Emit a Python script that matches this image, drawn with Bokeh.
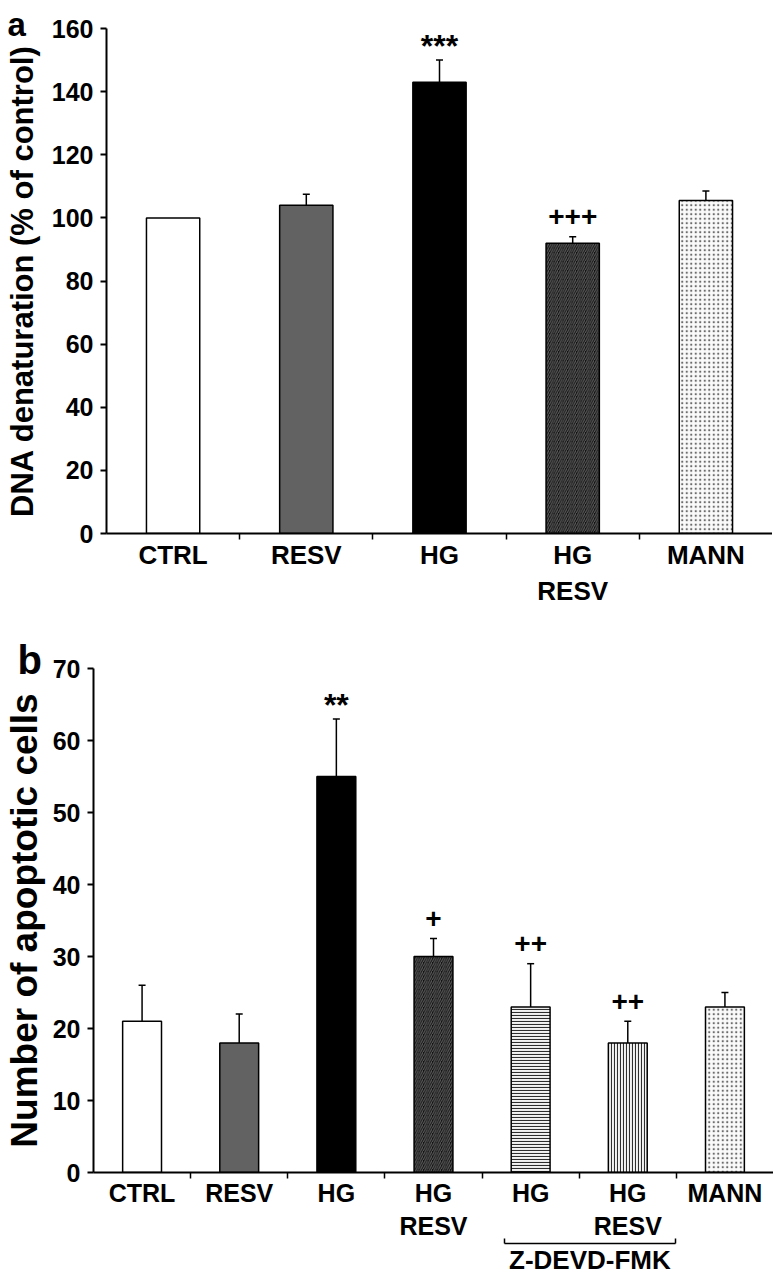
from bokeh.plotting import figure
from bokeh.models import (ColumnDataSource, Range1d, FixedTicker, Whisker, TeeHead, Label,
                          LinearAxis)
from bokeh.embed import file_html
from bokeh.resources import INLINE

# ---------------- data: panel a ----------------
cats_a = ["CTRL", "RESV", "HG", "HG\nRESV", "MANN"]
dna_mean = [100, 104, 143, 92, 105.5]
dna_err = [0, 3.5, 7, 2, 3]
dna_marks = ["", "", "***", "+++", ""]
yticks_a = [0, 20, 40, 60, 80, 100, 120, 140, 160]
ylabel_a = "DNA denaturation (% of control)"

# ---------------- data: panel b ----------------
cats_b = ["CTRL", "RESV", "HG", "HG\nRESV", "HG", "HG\nRESV", "MANN"]
apo_mean = [21, 18, 55, 30, 23, 18, 23]
apo_err = [5, 4, 8, 2.5, 6, 3, 2]
apo_marks = ["", "", "**", "+", "++", "++", ""]
yticks_b = [0, 10, 20, 30, 40, 50, 60, 70]
ylabel_b = "Number of apoptotic cells"
zdevd_label = "Z-DEVD-FMK"
zdevd_groups = [4, 5]

# ---------------- styles ----------------
FONT = "Liberation Sans"
fill_a = ["white", "#626262", "black", "#111111", "#fafafa"]
hatch_a = [" ", " ", " ", "/", "."]
hcol_a = ["black", "black", "black", "#5e5e5e", "#6a6a6a"]
hscale_a = [4, 4, 4, 4.5, 4.5]
fill_b = ["white", "#626262", "black", "#111111", "#f2f2f2", "#f2f2f2", "#fafafa"]
hatch_b = [" ", " ", " ", "/", "-", "|", "."]
hcol_b = ["black", "black", "black", "#5e5e5e", "#2e2e2e", "#2e2e2e", "#6a6a6a"]
hscale_b = [4, 4, 4, 4.5, 3, 3, 4.5]


def make_panel(cats, means, errs, marks, yticks, ylabel, fills, hatches, hcols, hscales,
               frame_w, frame_h, border_left, border_top, border_bottom,
               ylabel_size, tick_standoff, ylabel_standoff, cat_size):
    n = len(cats)
    xs = list(range(n))
    p = figure(x_range=Range1d(-0.5, n - 0.5), y_range=Range1d(yticks[0], yticks[-1]),
               frame_width=frame_w, frame_height=frame_h,
               min_border_left=border_left, min_border_right=0,
               min_border_top=border_top, min_border_bottom=border_bottom,
               toolbar_location=None, output_backend="svg")
    p.outline_line_color = None
    p.xgrid.visible = False
    p.ygrid.visible = False
    p.background_fill_color = "white"

    src = ColumnDataSource(dict(x=xs, top=means, fill=fills, hatch=hatches, hcol=hcols,
                                hscale=hscales))
    p.vbar(x="x", top="top", bottom=0, width=0.4, source=src,
           fill_color="fill", line_color="black", line_width=1.5,
           hatch_pattern="hatch", hatch_color="hcol", hatch_scale="hscale", hatch_weight=1.1)

    ex = [x for x, e in zip(xs, errs) if e > 0]
    eu = [m + e for m, e in zip(means, errs) if e > 0]
    el = [m - e for m, e in zip(means, errs) if e > 0]
    esrc = ColumnDataSource(dict(x=ex, upper=eu, lower=el))
    w = Whisker(source=esrc, base="x", upper="upper", lower="lower",
                line_color="black", line_width=1.5,
                upper_head=TeeHead(size=7, line_width=1.5, line_color="black"),
                lower_head=TeeHead(size=7, line_width=1.5, line_color="black"))
    p.add_layout(w)

    for x, m, e, mk in zip(xs, means, errs, marks):
        if not mk:
            continue
        star = mk.startswith("*")
        p.add_layout(Label(x=x, y=m + e, text=mk, text_align="center",
                           text_baseline="alphabetic",
                           y_offset=14 if star else 20,
                           text_font=FONT, text_font_style="bold",
                           text_font_size="32px" if star else "28px",
                           text_color="black"))

    # y axis
    ya = p.yaxis[0]
    ya.ticker = FixedTicker(ticks=yticks)
    ya.axis_line_width = 2
    ya.axis_line_color = "black"
    ya.major_tick_line_width = 2
    ya.major_tick_in = 0
    ya.major_tick_out = 6
    ya.major_label_standoff = tick_standoff
    ya.major_label_text_font = FONT
    ya.major_label_text_font_style = "bold"
    ya.major_label_text_font_size = "25px"
    ya.major_label_text_color = "black"
    ya.axis_label = ylabel
    ya.axis_label_text_font = FONT
    ya.axis_label_text_font_style = "bold"
    ya.axis_label_text_font_size = ylabel_size
    ya.axis_label_text_line_height = 1.0
    ya.axis_label_text_color = "black"
    ya.axis_label_standoff = ylabel_standoff

    # x axis
    xa = p.xaxis[0]
    xa.ticker = FixedTicker(ticks=xs, minor_ticks=[x + 0.5 for x in xs[:-1]])
    xa.axis_line_width = 2
    xa.axis_line_color = "black"
    xa.major_tick_in = 0
    xa.major_tick_out = 0
    xa.minor_tick_in = 0
    xa.minor_tick_out = 6
    xa.minor_tick_line_width = 1.5
    xa.minor_tick_line_color = "black"
    xa.major_label_overrides = {x: c for x, c in zip(xs, cats)}
    xa.major_label_standoff = 0
    xa.major_label_text_font = FONT
    xa.major_label_text_font_style = "bold"
    xa.major_label_text_font_size = cat_size
    xa.major_label_text_color = "black"
    return p


def panel_letter(p, letter, size, offset, standoff):
    p.title.text = letter
    p.title.align = "left"
    p.title.vertical_align = "middle"
    p.title.offset = offset
    p.title.standoff = standoff
    p.title.text_font = FONT
    p.title.text_font_style = "bold"
    p.title.text_font_size = size
    p.title.text_color = "black"


pa = make_panel(cats_a, dna_mean, dna_err, dna_marks, yticks_a, ylabel_a,
                fill_a, hatch_a, hcol_a, hscale_a, 666, 505, 106, 28, 78,
                "31px", 7, 9, "26px")
panel_letter(pa, "a", "33px", -99, -30)

pb = make_panel(cats_b, apo_mean, apo_err, apo_marks, yticks_b, ylabel_b,
                fill_b, hatch_b, hcol_b, hscale_b, 680, 504, 91, 57, 60,
                "37px", 7, 5, "25px")
panel_letter(pb, "b", "40px", -76, -28)

# bracket + label under the Z-DEVD-FMK groups, as a bounded secondary axis
bx0 = zdevd_groups[0] - 0.27
bx1 = zdevd_groups[-1] + 0.49
bmid = round((bx0 + bx1) / 2, 2)
zax = LinearAxis(ticker=FixedTicker(ticks=[bmid], minor_ticks=[bx0, bx1]),
                 bounds=(bx0, bx1),
                 major_label_overrides={bmid: zdevd_label})
zax.axis_line_width = 1.5
zax.axis_line_color = "black"
zax.major_tick_in = 0
zax.major_tick_out = 0
zax.minor_tick_in = 5
zax.minor_tick_out = 0
zax.minor_tick_line_width = 1.5
zax.minor_tick_line_color = "black"
zax.major_label_standoff = 1
zax.major_label_text_font = FONT
zax.major_label_text_font_style = "bold"
zax.major_label_text_font_size = "26px"
zax.major_label_text_color = "black"
pb.add_layout(zax, "below")

open("out.html", "w").write(file_html([pa, pb], INLINE))
